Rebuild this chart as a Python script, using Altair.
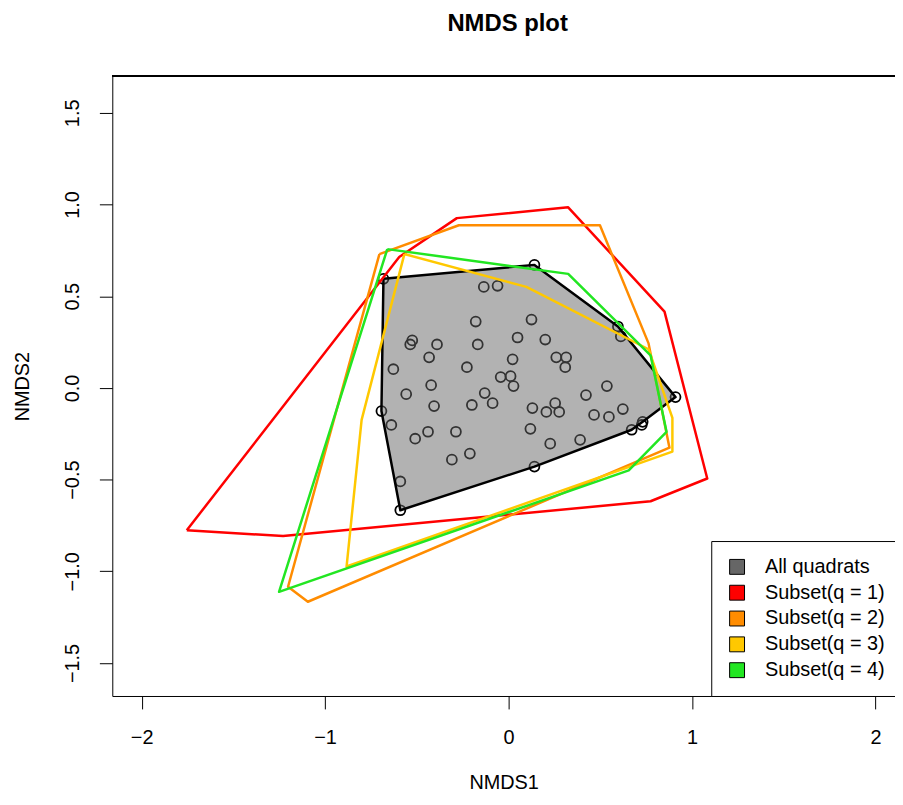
import altair as alt
import pandas as pd

# ---- data ----
pts_x = [-0.135, -0.060, -0.179, 0.125, -0.525, -0.536, -0.390, -0.168, 0.049, -0.433,
         -0.628, -0.227, 0.022, -0.043, 0.011, 0.027, -0.422, -0.558, -0.130, -0.406,
         -0.087, -0.200, 0.130, -0.639, -0.509, -0.439, -0.287, 0.119, -0.211, -0.309,
         -0.590, 0.200, 0.260, 0.314, 0.309, 0.536, 0.422, 0.254, 0.206, 0.276,
         0.623, 0.466, 0.547, 0.227, 0.390, 0.612, 0.726,
         -0.682, 0.141, 0.596, 0.910, 0.731, 0.671, 0.141, -0.590, -0.693]
pts_y = [0.551, 0.557, 0.362, 0.373, 0.259, 0.237, 0.237, 0.237, 0.275, 0.167,
         0.102, 0.113, 0.156, 0.059, 0.064, 0.010, 0.015, -0.034, -0.028, -0.099,
         -0.083, -0.093, -0.110, -0.202, -0.277, -0.239, -0.239, -0.223, -0.358, -0.391,
         -0.510, 0.264, 0.167, 0.167, 0.113, 0.010, -0.039, -0.083, -0.131, -0.131,
         -0.115, -0.147, -0.158, -0.304, -0.283, 0.281, -0.202,
         0.595, 0.671, 0.335, -0.050, -0.185, -0.228, -0.429, -0.667, -0.126]

all_x = [-0.682, 0.141, 0.596, 0.910, 0.731, 0.671, 0.141, -0.590, -0.693]
all_y = [0.595, 0.671, 0.335, -0.050, -0.185, -0.228, -0.429, -0.667, -0.126]

q1_x = [-1.754, -1.229, 0.774, 1.083, 0.850, 0.325, -0.282, -0.596]
q1_y = [-0.776, -0.808, -0.618, -0.494, 0.416, 0.985, 0.926, 0.714]
q2_x = [-0.704, -0.271, 0.498, 0.763, 0.877, -1.094, -1.202]
q2_y = [0.730, 0.887, 0.887, 0.243, -0.326, -1.166, -1.084]
q3_x = [-0.568, 0.097, 0.763, 0.893, 0.893, -0.883, -0.801]
q3_y = [0.730, 0.551, 0.211, -0.163, -0.347, -0.974, -0.174]
q4_x = [-0.661, 0.325, 0.774, 0.861, 0.655, -1.251]
q4_y = [0.757, 0.622, 0.178, -0.239, -0.450, -1.112]

legend_labels = ["All quadrats", "Subset(q = 1)", "Subset(q = 2)", "Subset(q = 3)", "Subset(q = 4)"]
legend_colors = ["#666666", "#FF0000", "#FF8C00", "#FFC800", "#22E622"]

x_ticks = [-2, -1, 0, 1, 2]
y_ticks = [-1.5, -1.0, -0.5, 0.0, 0.5, 1.0, 1.5]

# ---- tables ----
def ring(name, xs, ys):
    rows = [{"grp": name, "i": k, "x": a, "y": b} for k, (a, b) in enumerate(zip(xs, ys))]
    rows.append({"grp": name, "i": len(xs), "x": xs[0], "y": ys[0]})
    return rows

pts_df = pd.DataFrame({"x": pts_x, "y": pts_y})
hull_df = pd.DataFrame(ring("All quadrats", all_x, all_y))
sub_rows = []
for name, xs, ys in zip(legend_labels[1:], [q1_x, q2_x, q3_x, q4_x], [q1_y, q2_y, q3_y, q4_y]):
    sub_rows += ring(name, xs, ys)
sub_df = pd.DataFrame(sub_rows)
leg_df = pd.DataFrame({"label": legend_labels})

FONT = "Liberation Sans"
W, H = 788, 624

xs = alt.Scale(domain=[-2.16, -2.16 + W / 184.7], nice=False, zero=False)
ys = alt.Scale(domain=[-1.68, 1.70], nice=False, zero=False)

x_axis = alt.Axis(values=x_ticks, format="d", title="NMDS1", grid=False,
                  tickSize=13, tickColor="black", domainColor="black",
                  labelFont=FONT, labelFontSize=20, labelColor="black", labelPadding=19,
                  titleFont=FONT, titleFontSize=20, titleFontWeight="normal",
                  titleColor="black", titlePadding=25)
y_axis = alt.Axis(values=y_ticks, format=".1f", title="NMDS2", grid=False,
                  tickSize=13, tickColor="black", domainColor="black",
                  labelAngle=270, labelAlign="center", labelBaseline="bottom",
                  labelFont=FONT, labelFontSize=20, labelColor="black", labelPadding=17,
                  titleFont=FONT, titleFontSize=20, titleFontWeight="normal",
                  titleColor="black", titlePadding=30)

points = alt.Chart(pts_df).mark_point(shape="circle", size=100, strokeWidth=1.8,
                                      color="black", filled=False, opacity=1).encode(
    x=alt.X("x:Q", scale=xs, axis=x_axis),
    y=alt.Y("y:Q", scale=ys, axis=y_axis),
)

hull = alt.Chart(hull_df).mark_line(fill="#666666", fillOpacity=0.5, stroke="black",
                                    strokeWidth=2.5, strokeJoin="round").encode(
    x=alt.X("x:Q", scale=xs),
    y=alt.Y("y:Q", scale=ys),
    order="i:Q",
)

subsets = alt.Chart(sub_df).mark_line(strokeWidth=2.5, strokeJoin="round").encode(
    x=alt.X("x:Q", scale=xs),
    y=alt.Y("y:Q", scale=ys),
    detail="grp:N",
    order="i:Q",
    stroke=alt.Stroke("grp:N", scale=alt.Scale(domain=legend_labels, range=legend_colors),
                      legend=None),
)

legend_layer = alt.Chart(leg_df).mark_square(size=225, opacity=1).encode(
    fill=alt.Fill("label:N", scale=alt.Scale(domain=legend_labels, range=legend_colors),
                  legend=alt.Legend(title=None, orient="none", legendX=603, legendY=468,
                                    padding=16, strokeColor="black", fillColor="white",
                                    symbolType="square", symbolSize=225,
                                    symbolStrokeColor="black", symbolStrokeWidth=1,
                                    symbolOpacity=1,
                                    labelFont=FONT, labelFontSize=20, labelColor="black",
                                    labelOffset=18, rowPadding=6)),
).transform_filter("false")

top_rule = alt.Chart(pts_df).mark_rule(color="black", strokeWidth=1).encode(
    x=alt.value(0), x2=alt.value(W), y=alt.value(0)
)

chart = alt.layer(points, hull, subsets, legend_layer, top_rule).properties(
    width=W, height=H,
    title=alt.TitleParams("NMDS plot", font=FONT, fontSize=24, fontWeight="bold",
                          color="black", anchor="middle", dx=4, offset=21,
                          baseline="alphabetic"),
    autosize=alt.AutoSizeParams(type="none"),
    padding={"left": 105, "top": 66, "right": 0, "bottom": 95},
).resolve_scale(fill="independent", stroke="independent").configure_view(stroke=None)

chart.save("out.html", embed_options={"renderer": "svg", "actions": False})
